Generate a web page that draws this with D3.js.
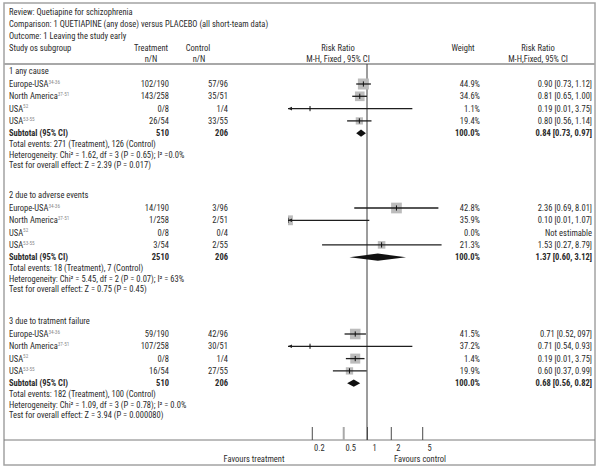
<!DOCTYPE html>
<html><head><meta charset="utf-8">
<script src="https://cdn.jsdelivr.net/npm/d3@7"></script>
<style>
body{margin:0;background:#fff}
svg text{font-family:"Liberation Sans Narrow","Arial Narrow","Roboto Condensed",sans-serif;font-size:8.5px;fill:#2b2b2b}
</style>
</head><body>
<svg id="c" width="600" height="470"></svg>
<script>
// ---------- data ----------
const titleLines = ["Review: Quetiapine for schizophrenia",
  "Comparison: 1 QUETIAPINE (any dose) versus PLACEBO (all short-team data)",
  "Outcome: 1 Leaving the study early"];
const groupTitles = ["1 any cause", "2 due to adverse events", "3 due to tratment failure"];
const studyNames = ["Europe-USA", "North America", "USA", "USA"];
const studyRefs = ["34-36", "37-51", "52", "53-55"];
const treatment = [["102/190","143/258","0/8","26/54"],["14/190","1/258","0/8","3/54"],["59/190","107/258","0/8","16/54"]];
const control = [["57/96","35/51","1/4","33/55"],["3/96","2/51","0/4","2/55"],["42/96","30/51","1/4","27/55"]];
const weights = [[44.9,34.6,1.1,19.4],[42.8,35.9,0.0,21.3],[41.5,37.2,1.4,19.9]];
const rrText = [["0.90 [0.73, 1.12]","0.81 [0.65, 1.00]","0.19 [0.01, 3.75]","0.80 [0.56, 1.14]"],
  ["2.36 [0.69, 8.01]","0.10 [0.01, 1.07]","Not estimable","1.53 [0.27, 8.79]"],
  ["0.71 [0.52, 097]","0.71 [0.54, 0.93]","0.19 [0.01, 3.75]","0.60 [0.37, 0.99]"]];
const subtotalTreat = ["510","2510","510"];
const subtotalControl = ["206","206","206"];
const subtotalRR = [0.84, 1.37, 0.68];
const subtotalLo = [0.73, 0.60, 0.56];
const subtotalHi = [0.97, 3.12, 0.82];
const subtotalText = ["0.84 [0.73, 0.97]","1.37 [0.60, 3.12]","0.68 [0.56, 0.82]"];
const totalEvents = ["Total events: 271 (Treatment), 126 (Control)","Total events: 18 (Treatment), 7 (Control)","Total events: 182 (Treatment), 100 (Control)"];
const heterogeneity = ["Heterogeneity: Chi\u00b2 = 1.62, df = 3 (P = 0.65); I\u00b2 =0.0%",
  "Heterogeneity: Chi\u00b2 = 5.45, df = 2 (P = 0.07); I\u00b2 = 63%",
  "Heterogeneity: Chi\u00b2 = 1.09, df = 3 (P = 0.78); I\u00b2 = 0.0%"];
const overallTest = ["Test for overall effect: Z = 2.39 (P = 0.017)","Test for overall effect: Z = 0.75 (P = 0.45)","Test for overall effect: Z = 3.94 (P = 0.000080)"];
// plotted marks as they appear in the figure
const markRR = [[0.90,0.81,0.19,0.80],[2.36,0.10,null,1.53],[0.71,0.19,0.71,0.60]];
const markLo = [[0.73,0.65,0.01,0.56],[0.69,0.01,null,0.27],[0.52,0.01,0.54,0.37]];
const markHi = [[1.12,1.00,3.75,1.14],[8.01,1.07,null,8.79],[0.97,3.75,0.93,0.99]];
const markWeight = [[44.9,34.6,1.1,19.4],[42.8,35.9,0,21.3],[41.5,1.4,37.2,19.9]];
const axisTicks = [0.2, 0.5, 1, 2, 5];

// ---------- layout ----------
const svg = d3.select("#c");
const W = 600;
const groupY = [84, 208, 334];
const rowStep = 12.3;
const xcol = {label: 9, treat: 169, ctrl: 228, weight: 480, rr: 592};
const plotTop = 64, axisY = 440;

const x = d3.scaleLog().domain([0.1, 10]).range([288, 446]);
const sq = d3.scaleSqrt().domain([0, 100]).range([0, 16.4]);

// frame
const frame = svg.append("g").attr("fill","none");
frame.append("rect").attr("x",4).attr("y",3).attr("width",591).attr("height",462)
  .attr("stroke","#a3a3a3").attr("stroke-width",1.5);
frame.append("line").attr("x1",4).attr("x2",595).attr("y1",plotTop).attr("y2",plotTop)
  .attr("stroke","#a8a8a8").attr("stroke-width",2);
frame.append("line").attr("x1",4).attr("x2",595).attr("y1",axisY).attr("y2",axisY)
  .attr("stroke","#7a7a7a").attr("stroke-width",1);

function txt(g, xx, yy, s, anchor, bold) {
  return g.append("text").attr("x", xx).attr("y", yy).attr("dy","0.35em")
    .attr("text-anchor", anchor || "start").attr("font-weight", bold ? "bold" : null).text(s);
}

// header
const hdr = svg.append("g");
titleLines.forEach((t, i) => txt(hdr, xcol.label, [12, 24, 36][i], t));
txt(hdr, xcol.label, 48.5, "Study os subgroup");
txt(hdr, 151, 48.5, "Treatment", "middle");
txt(hdr, 151, 59.5, "n/N", "middle");
txt(hdr, 198, 48.5, "Control", "middle");
txt(hdr, 199, 59.5, "n/N", "middle");
txt(hdr, 338, 48.5, "Risk Ratio", "middle");
txt(hdr, 338, 59.5, "M-H, Fixed , 95% CI", "middle");
txt(hdr, 463, 48.5, "Weight", "middle");
txt(hdr, 538, 48.5, "Risk Ratio", "middle");
txt(hdr, 538, 59.5, "M-H,Fixed, 95% CI", "middle");

// reference line at 1
svg.append("line").attr("x1", x(1)).attr("x2", x(1)).attr("y1", plotTop).attr("y2", axisY)
  .attr("stroke","#3a3a3a").attr("stroke-width",1);

// clip for plot
svg.append("clipPath").attr("id","clp").append("rect")
  .attr("x", x.range()[0]).attr("y", plotTop).attr("width", x.range()[1]-x.range()[0]).attr("height", axisY-plotTop);
const plot = svg.append("g").attr("clip-path","url(#clp)");
const arrows = svg.append("g");

const textG = svg.append("g");
groupTitles.forEach((gt, g) => {
  const base = groupY[g];
  txt(textG, xcol.label, base - 12.5, gt);
  studyNames.forEach((nm, i) => {
    const yy = base + i*rowStep;
    const t = txt(textG, xcol.label, yy, nm);
    t.append("tspan").attr("dy", "-3.2").attr("font-size","5.2px").attr("fill","#8a8a8a").text(studyRefs[i]);
    txt(textG, xcol.treat, yy, treatment[g][i], "end");
    txt(textG, xcol.ctrl, yy, control[g][i], "end");
    txt(textG, xcol.weight, yy, weights[g][i].toFixed(1) + "%", "end");
    txt(textG, xcol.rr, yy, rrText[g][i], "end");

    // marks
    const r = markRR[g][i];
    if (r != null) {
      const s = sq(markWeight[g][i]);
      plot.append("rect").attr("x", x(r)-s/2).attr("y", yy-s/2).attr("width", s).attr("height", s)
        .attr("fill","#bcbcbc");
      const lo = markLo[g][i], hi = markHi[g][i];
      const [d0, d1] = x.domain();
      plot.append("line").attr("x1", x(Math.max(lo, d0))).attr("x2", x(Math.min(hi, d1)))
        .attr("y1", yy).attr("y2", yy).attr("stroke","#1e1e1e").attr("stroke-width",1.3);
      plot.append("line").attr("x1", x(r)).attr("x2", x(r)).attr("y1", yy-2.6).attr("y2", yy+2.6)
        .attr("stroke","#111").attr("stroke-width",1);
      if (lo < d0) {
        const ax = x(d0);
        arrows.append("path").attr("d", `M${ax},${yy}L${ax+4},${yy-1.8}L${ax+4},${yy+1.8}Z`).attr("fill","#1e1e1e");
      }
      if (hi > d1) {
        const ax = x(d1);
        arrows.append("path").attr("d", `M${ax},${yy}L${ax-4},${yy-1.8}L${ax-4},${yy+1.8}Z`).attr("fill","#1e1e1e");
      }
    }
  });
  const ys = base + 4*rowStep;
  txt(textG, xcol.label, ys, "Subtotal (95% CI)", "start", true);
  txt(textG, xcol.treat, ys, subtotalTreat[g], "end", true);
  txt(textG, xcol.ctrl, ys, subtotalControl[g], "end", true);
  txt(textG, xcol.weight, ys, "100.0%", "end", true);
  txt(textG, xcol.rr, ys, subtotalText[g], "end", true);
  plot.append("path")
    .attr("d", `M${x(subtotalLo[g])},${ys}L${x(subtotalRR[g])},${ys-3.6}L${x(subtotalHi[g])},${ys}L${x(subtotalRR[g])},${ys+3.6}Z`)
    .attr("fill","#111");
  txt(textG, xcol.label, base + 60.5, totalEvents[g]);
  txt(textG, xcol.label, base + 71, heterogeneity[g]);
  txt(textG, xcol.label, base + 81.5, overallTest[g]);
});

// axis
const axis = d3.axisBottom(x).tickValues(axisTicks).tickSize(-13).tickPadding(5)
  .tickFormat(d => String(d));
const ag = svg.append("g").attr("transform", `translate(0,${axisY})`).call(axis);
ag.select(".domain").remove();
ag.selectAll(".tick line").attr("stroke", d => d === 0.5 ? "#a9a9a9" : "#4a4a4a")
  .attr("stroke-width", d => d === 0.5 ? 2 : 1);
ag.selectAll(".tick text").attr("dx", 7).attr("font-size", null).attr("font-family", null)
  .attr("fill", null).attr("dy","0.35em").attr("y", 8);
txt(svg, 254, 459, "Favours treatment", "middle");
txt(svg, 420, 459, "Favours control", "middle");
</script>
</body></html>
